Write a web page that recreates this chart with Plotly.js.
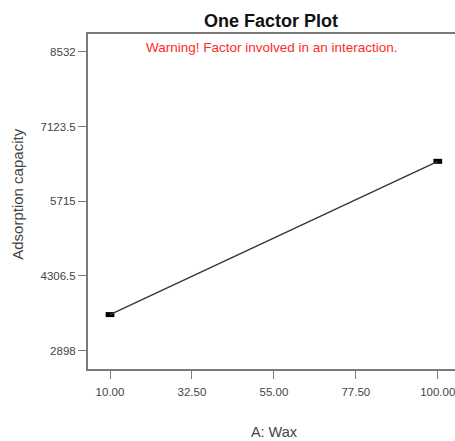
<!DOCTYPE html>
<html>
<head>
<meta charset="utf-8">
<script src="https://cdn.plot.ly/plotly-3.0.1.min.js"></script>
<style>
html,body{margin:0;padding:0;overflow:hidden;background:#fff;width:455px;height:441px;}
#chart{width:465px;height:441px;}
</style>
</head>
<body>
<div id="chart"></div>
<script>
// Data
const waxLevels = [10, 100];
const adsorption = [3576, 6468];
const lsdHalfWidth = [1.2, 1.2];

const xTickVals = [10, 32.5, 55, 77.5, 100];
const xTickText = ["10.00", "32.50", "55.00", "77.50", "100.00"];
const yTickVals = [2898, 4306.5, 5715, 7123.5, 8532];
const yTickText = ["2898", "4306.5", "5715", "7123.5", "8532"];

const trace = {
  x: waxLevels,
  y: adsorption,
  type: 'scatter',
  mode: 'lines',
  line: {color: '#333', width: 1.3},
  error_x: {type: 'data', array: lsdHalfWidth, visible: true, color: '#000', thickness: 5, width: 0},
  hoverinfo: 'skip',
  showlegend: false
};

const axisCommon = {
  showgrid: false,
  zeroline: false,
  showline: true,
  linecolor: '#7a7a7a',
  linewidth: 2,
  mirror: true,
  ticks: 'outside',
  ticklen: 8,
  tickwidth: 1,
  tickcolor: '#7a7a7a',
  tickfont: {family: 'Liberation Sans, Arial, sans-serif', size: 11.5, color: '#444'}
};

const plotTop = 34, plotBottom = 369.5;

const layout = {
  width: 465,
  height: 441,
  margin: {l: 88, r: 5, t: plotTop, b: 441 - plotBottom},
  paper_bgcolor: '#fff',
  plot_bgcolor: '#fff',
  font: {family: 'Liberation Sans, Arial, sans-serif'},
  title: {
    text: '<b>One Factor Plot</b>',
    font: {size: 18, color: '#111', family: 'Liberation Sans, Arial, sans-serif'},
    x: 271 / 465, xref: 'container', xanchor: 'center',
    y: 1 - 21 / 441, yref: 'container', yanchor: 'middle'
  },
  xaxis: Object.assign({}, axisCommon, {
    range: [3.96, 106.1],
    tickvals: xTickVals,
    ticktext: xTickText,
    ticklabelstandoff: 3,
    title: {text: 'A: Wax', font: {size: 14.5, color: '#444'}, standoff: 30}
  }),
  yaxis: Object.assign({}, axisCommon, {
    range: [2549, 8871],
    tickvals: yTickVals,
    ticktext: yTickText,
    title: {text: ''}
  }),
  annotations: [{
    text: 'Warning! Factor involved in an interaction.',
    xref: 'paper', yref: 'paper',
    x: (272 - 88) / 372, y: 1, yshift: -13,
    xanchor: 'center', yanchor: 'middle',
    showarrow: false,
    font: {size: 13.5, color: '#ff2a2a'}
  }, {
    text: 'Adsorption capacity',
    xref: 'paper', yref: 'paper',
    x: 0, xshift: -70,
    y: (plotBottom - 195) / (plotBottom - plotTop),
    xanchor: 'center', yanchor: 'middle',
    textangle: -90,
    showarrow: false,
    font: {size: 15, color: '#444'}
  }]
};

Plotly.newPlot('chart', [trace], layout, {displayModeBar: false, staticPlot: true});
</script>
</body>
</html>
